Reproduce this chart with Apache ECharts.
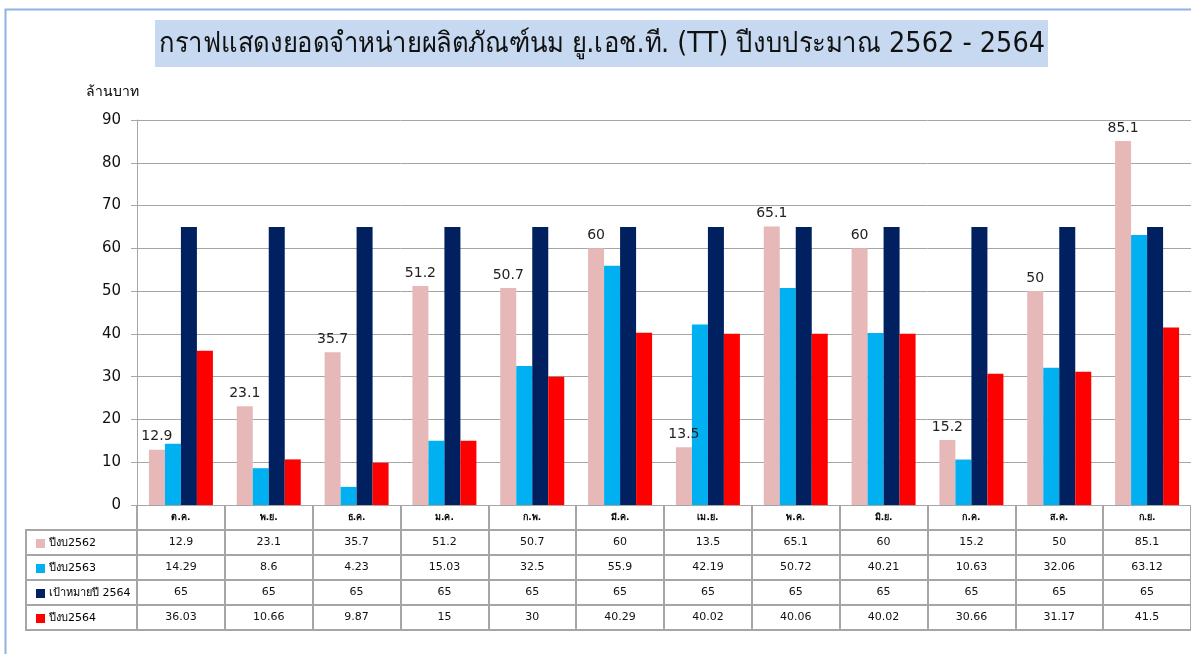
<!DOCTYPE html>
<html>
<head>
<meta charset="utf-8">
<script src="https://cdn.jsdelivr.net/npm/echarts@6/dist/echarts.min.js"></script>
<style>
html,body{margin:0;padding:0;background:#fff;}
#chart{width:1191px;height:654px;}
</style>
</head>
<body>
<div id="chart"></div>
<script>
const titleText = 'กราฟแสดงยอดจำหน่ายผลิตภัณฑ์นม ยู.เอช.ที. (TT) ปีงบประมาณ 2562 - 2564';
const unitText = 'ล้านบาท';
const months = ['ต.ค.','พ.ย.','ธ.ค.','ม.ค.','ก.พ.','มี.ค.','เม.ย.','พ.ค.','มิ.ย.','ก.ค.','ส.ค.','ก.ย.'];
const seriesNames = ['ปีงบ2562','ปีงบ2563','เป้าหมายปี 2564','ปีงบ2564'];
const fy2562 = [12.9,23.1,35.7,51.2,50.7,60,13.5,65.1,60,15.2,50,85.1];
const fy2563 = [14.29,8.6,4.23,15.03,32.5,55.9,42.19,50.72,40.21,10.63,32.06,63.12];
const target2564 = [65,65,65,65,65,65,65,65,65,65,65,65];
const fy2564 = [36.03,10.66,9.87,15,30,40.29,40.02,40.06,40.02,30.66,31.17,41.5];
const yTicks = [0,10,20,30,40,50,60,70,80,90];
const colors = ['#e6b9b8','#00b0f0','#002060','#ff0000'];

const rows = [fy2562, fy2563, target2564, fy2564];
const FONT = 'Tahoma, "DejaVu Sans", "Noto Sans", sans-serif';
const lineColor = '#a6a6a6';
const ROW_H = 25;

const chart = echarts.init(document.getElementById('chart'));

const xAxes = [{
  type: 'category', data: months, gridIndex: 0, position: 'bottom', offset: 0,
  axisLine: {show: true, lineStyle: {color: lineColor, width: 1}},
  axisTick: {show: true, length: ROW_H, interval: 0, lineStyle: {color: lineColor, width: 2}},
  axisLabel: {interval: 0, fontSize: 9, margin: 8, color: '#000', fontFamily: FONT, fontWeight: 'bold'}
}];
rows.forEach((r, i) => {
  xAxes.push({
    type: 'category', data: months, gridIndex: 0, position: 'bottom', offset: ROW_H * (i + 1),
    axisLine: {show: true, lineStyle: {color: lineColor, width: 2}},
    axisTick: {show: true, length: ROW_H, interval: 0, lineStyle: {color: lineColor, width: 2}},
    axisLabel: {interval: 0, fontSize: 11, margin: 7, color: '#111', fontFamily: FONT,
      formatter: (v, idx) => String(r[idx])}
  });
});
xAxes.push({
  type: 'category', data: months, gridIndex: 0, position: 'bottom', offset: ROW_H * 5,
  axisLine: {show: true, lineStyle: {color: lineColor, width: 2}},
  axisTick: {show: false}, axisLabel: {show: false}
});

const seriesData = [fy2562, fy2563, target2564, fy2564];
const series = seriesData.map((d, i) => ({
  name: seriesNames[i], type: 'bar', data: d, xAxisIndex: 0, yAxisIndex: 0,
  barWidth: 16, barGap: '0%',
  itemStyle: {color: colors[i]},
  label: i === 0 ? {show: true, position: 'top', distance: 6, fontSize: 14, color: '#222', fontFamily: FONT} : {show: false}
}));

const graphics = [
  {type: 'rect', shape: {x: 5.5, y: 9.5, width: 1300, height: 800}, style: {fill: 'none', stroke: '#8db3e2', lineWidth: 2}, silent: true, z: -1},
  {type: 'rect', shape: {x: 155, y: 20, width: 893, height: 47}, style: {fill: '#c6d9f1'}, silent: true},
  {type: 'text', x: 602, y: 45, scaleX: 0.915, style: {text: titleText, fill: '#111', font: '28px ' + FONT, align: 'center', verticalAlign: 'middle'}, silent: true},
  {type: 'text', x: 112, y: 92, style: {text: unitText, fill: '#000', font: '14px ' + FONT, align: 'center', verticalAlign: 'middle'}, silent: true},
  {type: 'rect', shape: {x: 26, y: 530, width: 111, height: 100}, style: {fill: 'none', stroke: lineColor, lineWidth: 2}, silent: true}
];
[1,2,3].forEach(k => {
  graphics.push({type: 'line', shape: {x1: 26, y1: 530 + ROW_H * k, x2: 137, y2: 530 + ROW_H * k}, style: {stroke: lineColor, lineWidth: 2}, silent: true});
});

chart.setOption({
  animation: false,
  grid: {left: 137, top: 120, width: 1056, height: 385, containLabel: false},
  legend: {
    data: seriesNames, orient: 'vertical', left: 31, top: 532,
    itemWidth: 9, itemHeight: 9, itemGap: 12, icon: 'rect', selectedMode: false,
    textStyle: {fontSize: 11, color: '#000', fontFamily: FONT, lineHeight: 13, padding: [0,0,0,-1]}
  },
  xAxis: xAxes,
  yAxis: {
    type: 'value', min: 0, max: 90, interval: 10,
    axisLine: {show: true, lineStyle: {color: lineColor, width: 1}},
    axisTick: {show: true, length: 6, lineStyle: {color: lineColor}},
    axisLabel: {fontSize: 15, color: '#111', margin: 16, fontFamily: FONT, formatter: v => yTicks.includes(v) ? String(v) : ''},
    splitLine: {show: true, lineStyle: {color: lineColor, width: 1}}
  },
  series: series,
  graphic: graphics
});
</script>
</body>
</html>
